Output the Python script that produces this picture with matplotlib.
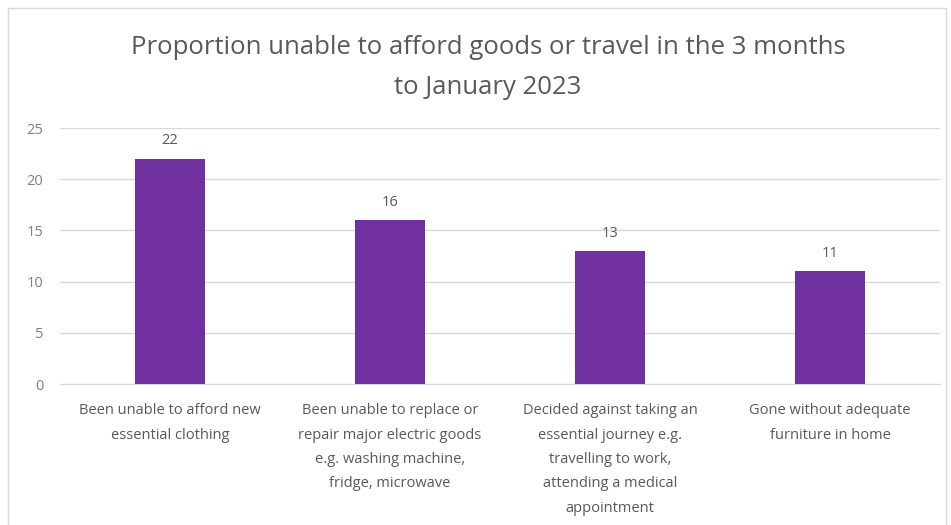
import matplotlib.pyplot as plt
from matplotlib.patches import Rectangle

categories = [
    "Been unable to afford new\nessential clothing",
    "Been unable to replace or\nrepair major electric goods\ne.g. washing machine,\nfridge, microwave",
    "Decided against taking an\nessential journey e.g.\ntravelling to work,\nattending a medical\nappointment",
    "Gone without adequate\nfurniture in home",
]
values = [22, 16, 13, 11]
yticks = [0, 5, 10, 15, 20, 25]

purple = "#7030A0"
grey_text = "#595959"

plt.rcParams["font.family"] = ["Open Sans", "DejaVu Sans"]

fig = plt.figure(figsize=(9.51, 5.25), dpi=100)
ax = fig.add_axes([60 / 951, 1 - 384 / 525, 880 / 951, 256 / 525])

x = range(len(values))
bars = ax.bar(x, values, width=0.32, color=purple, zorder=3)
for xi, v in zip(x, values):
    ax.text(xi, v + 1.0, str(v), ha="center", va="bottom", fontsize=10.5, color=grey_text)

ax.set_xlim(-0.5, len(values) - 0.5)
ax.set_ylim(0, 25)
ax.set_yticks(yticks)
ax.yaxis.grid(True, color="#D9D9D9", linewidth=1, zorder=0)
ax.set_xticks(list(x))
ax.set_xticklabels(categories, fontsize=10.5, color=grey_text, linespacing=1.85)
ax.tick_params(axis="y", labelsize=10.5, labelcolor="#7f7f7f", length=0, pad=12)
ax.tick_params(axis="x", length=0, pad=14)
for side in ["top", "right", "left"]:
    ax.spines[side].set_visible(False)
ax.spines["bottom"].set_color("#D9D9D9")

fig.text(488 / 951, 1 - 48 / 525, "Proportion unable to afford goods or travel in the 3 months",
         ha="center", va="center", fontsize=18.5, color=grey_text)
fig.text(488 / 951, 1 - 87 / 525, "to January 2023",
         ha="center", va="center", fontsize=18.5, color=grey_text)

# light frame around the chart area
fig.patches.append(Rectangle((8 / 951, -0.01), 938 / 951, 1 - 8 / 525 + 0.01,
                             transform=fig.transFigure, fill=False,
                             edgecolor="#D9D9D9", linewidth=1))

fig.savefig("out.png", dpi=100)
